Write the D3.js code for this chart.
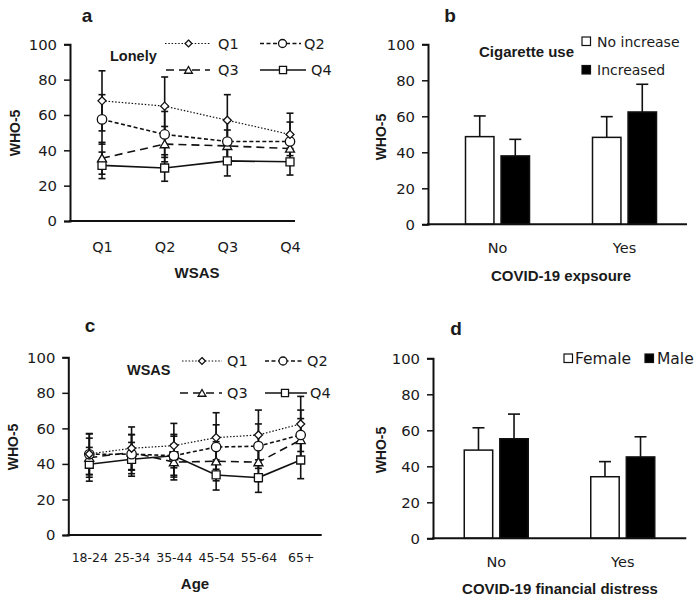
<!DOCTYPE html>
<html><head><meta charset="utf-8">
<script src="https://cdn.jsdelivr.net/npm/d3@7"></script>
<style>
body{margin:0;background:#fff;}
text{font-family:"DejaVu Sans",sans-serif;fill:#1a1a1a;}
.b{font-family:"Liberation Sans",Arial,sans-serif;font-weight:bold;}
</style></head>
<body><svg id="c" width="696" height="599"></svg>
<script>
// ---------- DATA ----------
const yTicks = [0, 20, 40, 60, 80, 100];
const seriesNames = ["Q1", "Q2", "Q3", "Q4"];

// Panel a: WHO-5 by WSAS quartile, series = Lonely quartile
const wsasCats = ["Q1", "Q2", "Q3", "Q4"];
const lonelyQ1 = [68, 65, 57, 49];
const lonelyQ2 = [57.5, 49, 45, 45];
const lonelyQ3 = [35.5, 43.5, 42.5, 41];
const lonelyQ4 = [31.5, 30, 34, 33.5];
const lonelyQ1sd = [17, 16.5, 14.5, 12];
const lonelyQ2sd = [14, 13, 12, 11];
const lonelyQ3sd = [9, 10, 9, 8];
const lonelyQ4sd = [7.5, 7.5, 8.5, 7.5];

// Panel b: cigarette use by COVID-19 exposure
const exposureCats = ["No", "Yes"];
const cigGroups = ["No increase", "Increased"];
const cigNoIncrease = [48.7, 48.3];
const cigIncreased = [38, 62.4];
const cigNoIncreaseErr = [11.5, 11.5];
const cigIncreasedErr = [9.2, 15.4];

// Panel c: WHO-5 by age, series = WSAS quartile
const ageCats = ["18-24", "25-34", "35-44", "45-54", "55-64", "65+"];
const wsasQ1 = [45.6, 48.8, 50.3, 54.8, 56.3, 62.5];
const wsasQ2 = [45.4, 45.5, 44.6, 49.5, 50, 56.3];
const wsasQ3 = [43.5, 46.5, 41, 41.5, 41, 53.5];
const wsasQ4 = [39.8, 42.6, 44.6, 33.8, 32.3, 42.2];
const wsasQ1sd = [11.5, 12, 12.5, 14, 14, 15.5];
const wsasQ2sd = [11.5, 11, 11, 12.5, 12.5, 14];
const wsasQ3sd = [11, 10, 10, 11, 11, 12];
const wsasQ4sd = [9.5, 9.5, 12, 8.5, 8.3, 10.5];

// Panel d: sex by COVID-19 financial distress
const distressCats = ["No", "Yes"];
const sexGroups = ["Female", "Male"];
const female = [49, 34.2];
const male = [55.3, 45.2];
const femaleErr = [12.4, 8.4];
const maleErr = [13.7, 11.2];

// ---------- DRAW ----------
const svg = d3.select("#c");
const styles = {
  Q1: {dash: "1.5,1.8", width: 1.2, shape: d3.symbolDiamond2, size: 41, lsize: 30},
  Q2: {dash: "4,2.5", width: 1.6, shape: "circle", size: 4.7, lsize: 4},
  Q3: {dash: "8,5", width: 1.6, shape: d3.symbolTriangle2, size: 58, lsize: 44},
  Q4: {dash: null, width: 1.6, shape: d3.symbolSquare2, size: 81, lsize: 64}
};

function marker(g, name, x, y, leg) {
  const st = styles[name];
  const sz = leg ? st.lsize : st.size;
  if (st.shape === "circle") {
    g.append("circle").attr("cx", x).attr("cy", y).attr("r", sz)
      .attr("fill", "#fff").attr("stroke", "#111").attr("stroke-width", 1.3);
  } else {
    const dy = st.shape === d3.symbolTriangle2 ? 1 : 0;
    g.append("path").attr("d", d3.symbol(st.shape, sz)())
      .attr("transform", `translate(${x},${y + dy})`)
      .attr("fill", "#fff").attr("stroke", "#111").attr("stroke-width", 1.3);
  }
}

function yAxis(g, y, x0) {
  const ax = g.append("g").attr("transform", `translate(${x0},0)`)
    .call(d3.axisLeft(y).tickValues(yTicks).tickSize(6).tickPadding(7));
  ax.select(".domain").attr("stroke", "#111").attr("stroke-width", 2);
  ax.selectAll(".tick line").attr("stroke", "#111").attr("stroke-width", 1.5);
  ax.selectAll(".tick text").style("font-size", "14.8px").attr("fill", "#1a1a1a")
    .style("font-family", "DejaVu Sans");
}

function xAxisLine(g, y0, x0, x1) {
  g.append("line").attr("x1", x0).attr("x2", x1).attr("y1", y0).attr("y2", y0)
    .attr("stroke", "#111").attr("stroke-width", 2);
}

function xTickLabels(g, x, y0, labelY, fs) {
  const ax = g.append("g").attr("transform", `translate(0,${y0})`)
    .call(d3.axisBottom(x).tickSize(0).tickPadding(0));
  ax.select(".domain").remove();
  ax.selectAll(".tick text").attr("y", labelY - y0).attr("dy", null)
    .attr("dominant-baseline", "central")
    .style("font-size", fs + "px").attr("fill", "#1a1a1a")
    .style("font-family", "DejaVu Sans");
}

function boldText(g, x, y, t, size, anchor, rot) {
  const el = g.append("text").attr("class", "b").attr("x", x).attr("y", y).text(t)
    .attr("text-anchor", anchor || "middle").attr("dominant-baseline", "central")
    .style("font-size", size + "px");
  if (rot) el.attr("transform", `rotate(-90,${x},${y})`);
  return el;
}

function linePanel(cfg) {
  const g = svg.append("g");
  const y = d3.scaleLinear().domain([0, 100]).range([cfg.y0, cfg.y100]);
  const x = d3.scalePoint().domain(cfg.cats).range(cfg.xr);
  cfg.series.forEach(s => {
    s.vals.forEach((v, i) => {
      const cx = x(cfg.cats[i]);
      const lo = y(v - s.sd[i]), hi = y(v + s.sd[i]);
      g.append("line").attr("x1", cx).attr("x2", cx).attr("y1", lo).attr("y2", hi)
        .attr("stroke", "#111").attr("stroke-width", 1.6);
      [lo, hi].forEach(yy => g.append("line").attr("x1", cx - 3.5).attr("x2", cx + 3.5)
        .attr("y1", yy).attr("y2", yy).attr("stroke", "#111").attr("stroke-width", 1.6));
    });
  });
  cfg.series.forEach(s => {
    const st = styles[s.name];
    g.append("path").datum(s.vals)
      .attr("d", d3.line().x((d, i) => x(cfg.cats[i])).y(d => y(d)))
      .attr("fill", "none").attr("stroke", "#111").attr("stroke-width", st.width)
      .attr("stroke-dasharray", st.dash);
  });
  cfg.series.slice().reverse().forEach(s => {
    s.vals.forEach((v, i) => marker(g, s.name, x(cfg.cats[i]), y(v), false));
  });
  yAxis(g, y, cfg.ax);
  xAxisLine(g, cfg.y0, cfg.ax - 1, cfg.axEnd);
  xTickLabels(g, x, cfg.y0, cfg.tickY, cfg.tickFs);
  cfg.legend.forEach(l => {
    const st = styles[l.name];
    g.append("line").attr("x1", l.x0).attr("x2", l.x1).attr("y1", l.y).attr("y2", l.y)
      .attr("stroke", "#111").attr("stroke-width", st.width).attr("stroke-dasharray", st.dash);
    marker(g, l.name, l.mx, l.y, true);
    g.append("text").attr("x", l.tx).attr("y", l.y).attr("dominant-baseline", "central")
      .style("font-size", cfg.legFs + "px").text(l.name);
  });
  boldText(g, cfg.innerTitle[0], cfg.innerTitle[1], cfg.innerTitle[2], 14.5, "start");
  boldText(g, cfg.panel[0], cfg.panel[1], cfg.panel[2], 19, "middle");
  boldText(g, cfg.ylab[0], cfg.ylab[1], "WHO-5", 14, "middle", true);
  boldText(g, cfg.xlab[0], cfg.xlab[1], cfg.xlab[2], 15, "middle");
}

function barPanel(cfg) {
  const g = svg.append("g");
  const y = d3.scaleLinear().domain([0, 100]).range([cfg.y0, cfg.y100]);
  const x = d3.scaleBand().domain(cfg.cats).range(cfg.xr);
  const sub = d3.scaleBand().domain(cfg.groups).range([-32, 32]).paddingInner(0.2);
  const fills = ["#fff", "#000"];
  cfg.groups.forEach((grp, gi) => {
    cfg.vals[gi].forEach((v, i) => {
      const bx = x(cfg.cats[i]) + x.bandwidth() / 2 + sub(grp);
      const cx = bx + sub.bandwidth() / 2;
      const top = y(v + cfg.errs[gi][i]);
      g.append("line").attr("x1", cx).attr("x2", cx).attr("y1", y(v)).attr("y2", top)
        .attr("stroke", "#111").attr("stroke-width", 1.6);
      g.append("line").attr("x1", cx - 6).attr("x2", cx + 6).attr("y1", top).attr("y2", top)
        .attr("stroke", "#111").attr("stroke-width", 1.6);
      g.append("rect").attr("x", bx).attr("y", y(v)).attr("width", sub.bandwidth())
        .attr("height", y(0) - y(v)).attr("fill", fills[gi])
        .attr("stroke", "#111").attr("stroke-width", 1.5);
    });
  });
  yAxis(g, y, cfg.ax);
  xAxisLine(g, cfg.y0, cfg.ax - 1, cfg.axEnd);
  xTickLabels(g, x, cfg.y0, cfg.tickY, cfg.tickFs);
  cfg.legend.forEach((l, li) => {
    g.append("rect").attr("x", l.x).attr("y", l.y - 4.5).attr("width", 8.5).attr("height", 8.5)
      .attr("fill", fills[li]).attr("stroke", "#111").attr("stroke-width", 1.2);
    g.append("text").attr("x", l.tx).attr("y", l.y).attr("dominant-baseline", "central")
      .style("font-size", cfg.legFs + "px").text(cfg.groups[li]);
  });
  if (cfg.innerTitle) boldText(g, cfg.innerTitle[0], cfg.innerTitle[1], cfg.innerTitle[2], 15, "start");
  boldText(g, cfg.panel[0], cfg.panel[1], cfg.panel[2], 19, "middle");
  boldText(g, cfg.ylab[0], cfg.ylab[1], "WHO-5", 14, "middle", true);
  boldText(g, cfg.xlab[0], cfg.xlab[1], cfg.xlab[2], 15, "middle");
}

linePanel({
  cats: wsasCats, y0: 221, y100: 44.3, xr: [102, 290], ax: 70, axEnd: 295, tickY: 247, tickFs: 14.5,
  legFs: 14.5,
  series: [
    {name: "Q1", vals: lonelyQ1, sd: lonelyQ1sd},
    {name: "Q2", vals: lonelyQ2, sd: lonelyQ2sd},
    {name: "Q3", vals: lonelyQ3, sd: lonelyQ3sd},
    {name: "Q4", vals: lonelyQ4, sd: lonelyQ4sd}
  ],
  legend: [
    {name: "Q1", x0: 165, x1: 210, mx: 188.5, y: 43.5, tx: 218},
    {name: "Q2", x0: 260, x1: 301, mx: 282.5, y: 43.5, tx: 304},
    {name: "Q3", x0: 166, x1: 210, mx: 188.5, y: 70, tx: 218},
    {name: "Q4", x0: 260, x1: 306, mx: 283, y: 70, tx: 311}
  ],
  innerTitle: [110, 56, "Lonely"],
  panel: [87, 15, "a"],
  ylab: [15, 133],
  xlab: [197, 272, "WSAS"]
});

barPanel({
  cats: exposureCats, groups: cigGroups, vals: [cigNoIncrease, cigIncreased],
  errs: [cigNoIncreaseErr, cigIncreasedErr],
  y0: 224.3, y100: 44.3, xr: [434, 688], ax: 428, axEnd: 687, tickY: 248.5, tickFs: 14.5,
  legFs: 14,
  legend: [{x: 582, y: 41.5, tx: 597}, {x: 582, y: 70, tx: 597}],
  innerTitle: [479, 51, "Cigarette use"],
  panel: [450, 15, "b"],
  ylab: [381, 137],
  xlab: [561, 275, "COVID-19 expsoure"]
});

linePanel({
  cats: ageCats, y0: 535, y100: 357.3, xr: [89.3, 300.7], ax: 68.3, axEnd: 321.7, tickY: 557.5,
  tickFs: 12.5, legFs: 14.5,
  series: [
    {name: "Q1", vals: wsasQ1, sd: wsasQ1sd},
    {name: "Q2", vals: wsasQ2, sd: wsasQ2sd},
    {name: "Q3", vals: wsasQ3, sd: wsasQ3sd},
    {name: "Q4", vals: wsasQ4, sd: wsasQ4sd}
  ],
  legend: [
    {name: "Q1", x0: 182, x1: 222, mx: 202, y: 361, tx: 227},
    {name: "Q2", x0: 265, x1: 303, mx: 283, y: 361, tx: 307},
    {name: "Q3", x0: 180, x1: 222, mx: 202, y: 393, tx: 227},
    {name: "Q4", x0: 265, x1: 307, mx: 285, y: 393, tx: 310}
  ],
  innerTitle: [127, 370, "WSAS"],
  panel: [90, 325, "c"],
  ylab: [13, 447],
  xlab: [195, 583, "Age"]
});

barPanel({
  cats: distressCats, groups: sexGroups, vals: [female, male], errs: [femaleErr, maleErr],
  y0: 538.3, y100: 358.3, xr: [433, 686], ax: 433, axEnd: 686.3, tickY: 562, tickFs: 14.5,
  legFs: 15.5,
  legend: [{x: 564, y: 358.5, tx: 575}, {x: 645, y: 358.5, tx: 657}],
  innerTitle: null,
  panel: [456, 328, "d"],
  ylab: [381, 450],
  xlab: [560, 588, "COVID-19 financial distress"]
});
</script></body></html>
